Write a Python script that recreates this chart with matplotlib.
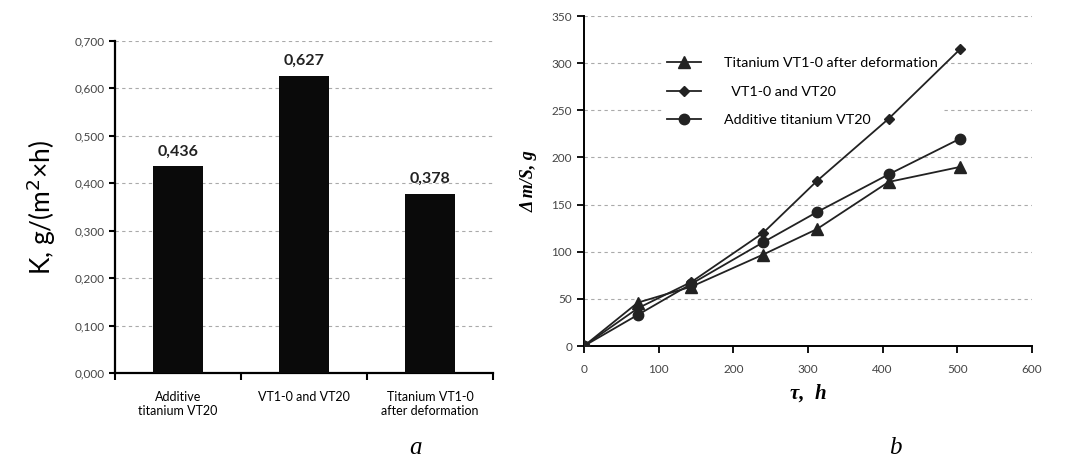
import numpy as np
import matplotlib
matplotlib.use("Agg")
import matplotlib.pyplot as plt
from matplotlib.ticker import FuncFormatter, FixedLocator

plt.rcParams["font.family"] = ["Lato", "DejaVu Sans"]

# bar chart (a)
categories = ["Additive\ntitanium VT20", "VT1-0 and VT20", "Titanium VT1-0\nafter deformation"]
k_values = [0.436, 0.627, 0.378]

# line chart (b)
tau = [0, 72, 144, 240, 312, 408, 504]
ti_deformed = [0, 46, 63, 97, 124, 174, 190]
vt1_vt20 = [0, 40, 68, 120, 175, 241, 315]
additive_vt20 = [0, 33, 66, 110, 142, 182, 220]

fig = plt.figure(figsize=(10.81, 4.70), dpi=100)

grid_kw = dict(color="#aaaaaa", linestyle=(0, (3, 3)), linewidth=0.8)
serif = ["Liberation Serif", "DejaVu Serif"]

# ---- (a) ----
ax1 = fig.add_axes([0.1064, 0.2064, 0.3497, 0.7064])
x = np.arange(len(categories))
ax1.bar(x, k_values, width=0.4, color="#0a0a0a", zorder=3)
for xi, v in zip(x, k_values):
    ax1.text(xi, v + 0.016, ("%.3f" % v).replace(".", ","), ha="center", va="bottom",
             fontsize=11.5, fontweight="bold", color="#222222")
ax1.set_xlim(-0.5, 2.5)
ax1.set_ylim(0, 0.7)
ax1.set_yticks(np.arange(0, 0.71, 0.1))
ax1.yaxis.set_major_formatter(FuncFormatter(lambda v, p: ("%.3f" % v).replace(".", ",")))
ax1.xaxis.set_major_locator(FixedLocator([-0.5, 0.5, 1.5, 2.5]))
ax1.set_xticklabels([])
ax1.set_xticks(x, minor=True)
ax1.set_xticklabels(categories, minor=True, fontsize=9)
ax1.tick_params(axis="x", which="minor", length=0, pad=13)
ax1.tick_params(axis="x", which="major", length=5, width=1.5, direction="out")
ax1.tick_params(axis="y", length=4, width=1.5, labelsize=8.5, labelcolor="#444444")
ax1.yaxis.grid(True, **grid_kw)
ax1.set_axisbelow(True)
for s in ["top", "right"]:
    ax1.spines[s].set_visible(False)
for s in ["left", "bottom"]:
    ax1.spines[s].set_linewidth(1.6)
ax1.set_ylabel("K, g/(m$^2$×h)", fontsize=19, labelpad=12)

# ---- (b) ----
ax2 = fig.add_axes([0.5402, 0.2638, 0.4144, 0.7021])
line_kw = dict(color="#222222", linewidth=1.3, zorder=4)
ax2.plot(tau, ti_deformed, marker="^", markersize=8, label="Titanium VT1-0 after deformation", **line_kw)
ax2.plot(tau, vt1_vt20, marker="D", markersize=5.5, label="  VT1-0 and VT20", **line_kw)
ax2.plot(tau, additive_vt20, marker="o", markersize=7.5, label="Additive titanium VT20", **line_kw)
ax2.set_xlim(0, 600)
ax2.set_ylim(0, 350)
ax2.set_xticks(np.arange(0, 601, 100))
ax2.set_yticks(np.arange(0, 351, 50))
ax2.tick_params(axis="both", length=5, width=1.3, labelsize=8.5, labelcolor="#444444")
ax2.tick_params(axis="x", pad=8)
ax2.yaxis.grid(True, **grid_kw)
ax2.set_axisbelow(True)
for s in ["top", "right"]:
    ax2.spines[s].set_visible(False)
for s in ["left", "bottom"]:
    ax2.spines[s].set_linewidth(1.4)
ax2.set_xlabel("τ,  h", fontsize=15, fontweight="bold", fontstyle="italic",
               family=serif, labelpad=6)
ax2.set_ylabel("Δ m/S, g", fontsize=13, fontweight="bold", fontstyle="italic",
               family=serif, labelpad=10)
leg = ax2.legend(loc="upper left", bbox_to_anchor=(0.16, 0.91), frameon=True,
                 fontsize=10.3, handlelength=2.4, labelspacing=1.15, handletextpad=1.6,
                 borderpad=0.3)
leg.get_frame().set_edgecolor("white")
leg.get_frame().set_facecolor("white")
leg.get_frame().set_alpha(1)
leg.set_zorder(2)

fig.text(0.384, 0.035, "a", fontsize=18, fontstyle="italic", family=serif, ha="center")
fig.text(0.828, 0.035, "b", fontsize=18, fontstyle="italic", family=serif, ha="center")

fig.savefig("out.png", dpi=100)
